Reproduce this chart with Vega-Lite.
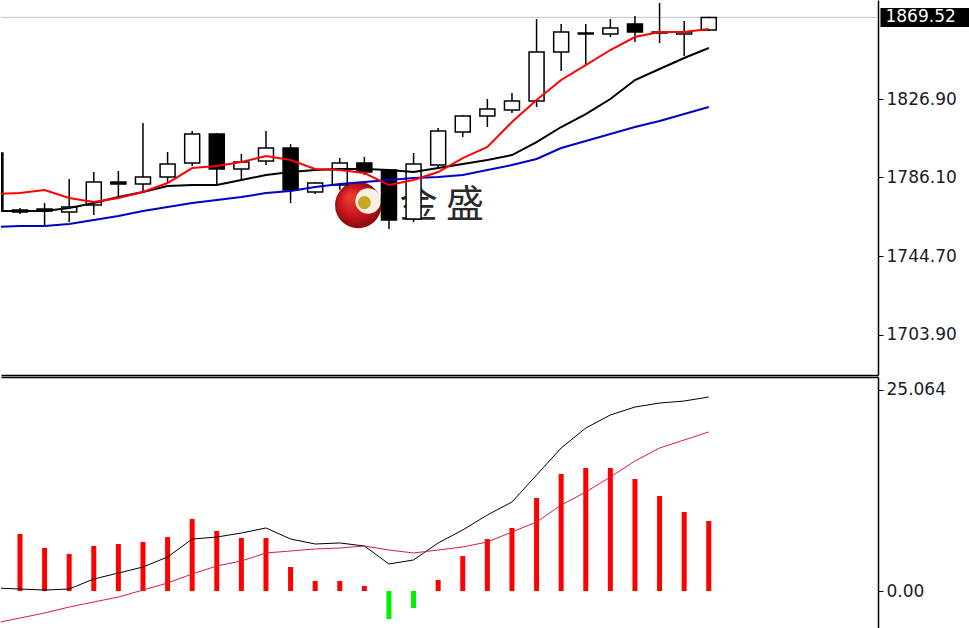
{
  "$schema": "https://vega.github.io/schema/vega-lite/v6.json",
  "padding": 0,
  "background": "white",
  "spacing": 2,
  "config": {
    "view": {"stroke": null},
    "scale": {"continuousPadding": 0},
    "axis": {"grid": false, "title": null, "labelFont": "DejaVu Sans", "labelFontSize": 17, "labelColor": "#1a1a2a", "domainColor": "#000000", "tickColor": "#000000", "tickSize": 5, "labelPadding": 3}
  },
  "datasets": {
    "bars": [
      {"k": -1, "open": 1798.70, "high": 1799.50, "low": 1767.89, "close": 1768.94, "ma5": 1777.29, "ma10": 1768.41, "ma20": 1760.06, "hist": 8.7, "dif": 0.37, "dea": -3.99},
      {"k": 0, "open": 1768.94, "high": 1769.98, "low": 1766.85, "close": 1767.89, "ma5": 1777.81, "ma10": 1768.41, "ma20": 1760.58, "hist": 7.11, "dif": 0.25, "dea": -3.37},
      {"k": 1, "open": 1769.46, "high": 1772.59, "low": 1760.58, "close": 1768.41, "ma5": 1779.38, "ma10": 1768.41, "ma20": 1760.58, "hist": 5.36, "dif": 0.12, "dea": -2.74},
      {"k": 2, "open": 1767.89, "high": 1785.12, "low": 1762.67, "close": 1770.50, "ma5": 1775.20, "ma10": 1769.98, "ma20": 1761.62, "hist": 4.61, "dif": 0.25, "dea": -2.00},
      {"k": 3, "open": 1771.55, "high": 1788.78, "low": 1766.32, "close": 1783.56, "ma5": 1773.11, "ma10": 1772.59, "ma20": 1763.71, "hist": 5.61, "dif": 1.50, "dea": -1.37},
      {"k": 4, "open": 1783.56, "high": 1789.30, "low": 1775.72, "close": 1782.51, "ma5": 1775.20, "ma10": 1775.72, "ma20": 1765.80, "hist": 5.86, "dif": 2.24, "dea": -0.75},
      {"k": 5, "open": 1782.51, "high": 1814.37, "low": 1778.34, "close": 1786.17, "ma5": 1778.34, "ma10": 1778.34, "ma20": 1768.41, "hist": 6.11, "dif": 2.99, "dea": 0.12},
      {"k": 6, "open": 1786.17, "high": 1799.22, "low": 1783.56, "close": 1792.96, "ma5": 1783.04, "ma10": 1781.47, "ma20": 1770.50, "hist": 6.73, "dif": 4.24, "dea": 1.00},
      {"k": 7, "open": 1793.48, "high": 1810.19, "low": 1791.91, "close": 1808.62, "ma5": 1790.87, "ma10": 1781.99, "ma20": 1772.59, "hist": 8.98, "dif": 6.48, "dea": 2.12},
      {"k": 8, "open": 1808.62, "high": 1809.15, "low": 1781.99, "close": 1790.35, "ma5": 1791.91, "ma10": 1781.99, "ma20": 1774.16, "hist": 7.48, "dif": 6.73, "dea": 3.12},
      {"k": 9, "open": 1790.35, "high": 1798.18, "low": 1784.60, "close": 1794.00, "ma5": 1794.00, "ma10": 1784.60, "ma20": 1775.72, "hist": 6.61, "dif": 7.23, "dea": 3.74},
      {"k": 10, "open": 1794.52, "high": 1810.19, "low": 1792.43, "close": 1801.31, "ma5": 1797.13, "ma10": 1787.21, "ma20": 1777.81, "hist": 6.61, "dif": 7.86, "dea": 4.74},
      {"k": 11, "open": 1801.31, "high": 1803.40, "low": 1772.59, "close": 1779.38, "ma5": 1795.05, "ma10": 1788.78, "ma20": 1778.86, "hist": 2.99, "dif": 6.48, "dea": 4.99},
      {"k": 12, "open": 1778.34, "high": 1783.56, "low": 1777.29, "close": 1783.04, "ma5": 1790.35, "ma10": 1789.82, "ma20": 1780.95, "hist": 1.25, "dif": 5.86, "dea": 5.24},
      {"k": 13, "open": 1781.99, "high": 1796.09, "low": 1779.38, "close": 1793.48, "ma5": 1789.82, "ma10": 1790.35, "ma20": 1782.51, "hist": 1.25, "dif": 5.99, "dea": 5.36},
      {"k": 14, "open": 1793.48, "high": 1796.61, "low": 1787.21, "close": 1788.78, "ma5": 1788.26, "ma10": 1790.35, "ma20": 1783.56, "hist": 0.62, "dif": 5.61, "dea": 5.61},
      {"k": 15, "open": 1789.82, "high": 1790.35, "low": 1759.01, "close": 1763.71, "ma5": 1781.99, "ma10": 1789.82, "ma20": 1784.60, "hist": -3.49, "dif": 3.37, "dea": 5.11},
      {"k": 16, "open": 1764.24, "high": 1798.70, "low": 1762.67, "close": 1792.96, "ma5": 1784.60, "ma10": 1788.78, "ma20": 1785.65, "hist": -2.12, "dif": 3.87, "dea": 4.74},
      {"k": 17, "open": 1792.43, "high": 1811.76, "low": 1790.87, "close": 1810.19, "ma5": 1788.78, "ma10": 1790.87, "ma20": 1786.17, "hist": 1.37, "dif": 5.99, "dea": 5.11},
      {"k": 18, "open": 1809.67, "high": 1818.54, "low": 1807.06, "close": 1818.02, "ma5": 1796.09, "ma10": 1792.96, "ma20": 1787.21, "hist": 4.36, "dif": 7.61, "dea": 5.49},
      {"k": 19, "open": 1818.02, "high": 1826.90, "low": 1812.28, "close": 1821.68, "ma5": 1801.83, "ma10": 1795.05, "ma20": 1789.82, "hist": 6.48, "dif": 9.48, "dea": 6.11},
      {"k": 20, "open": 1821.16, "high": 1830.03, "low": 1819.59, "close": 1825.86, "ma5": 1814.89, "ma10": 1797.66, "ma20": 1792.43, "hist": 7.86, "dif": 11.10, "dea": 7.36},
      {"k": 21, "open": 1825.86, "high": 1868.68, "low": 1822.72, "close": 1851.44, "ma5": 1826.38, "ma10": 1804.45, "ma20": 1795.57, "hist": 11.60, "dif": 14.46, "dea": 8.60},
      {"k": 22, "open": 1851.44, "high": 1866.07, "low": 1841.52, "close": 1861.89, "ma5": 1836.82, "ma10": 1812.28, "ma20": 1801.31, "hist": 14.59, "dif": 17.83, "dea": 10.72},
      {"k": 23, "open": 1861.37, "high": 1866.07, "low": 1844.65, "close": 1860.84, "ma5": 1844.65, "ma10": 1819.07, "ma20": 1804.97, "hist": 15.34, "dif": 20.32, "dea": 12.34},
      {"k": 24, "open": 1860.84, "high": 1868.68, "low": 1859.28, "close": 1863.98, "ma5": 1852.49, "ma10": 1826.90, "ma20": 1808.62, "hist": 15.34, "dif": 21.95, "dea": 14.21},
      {"k": 25, "open": 1866.07, "high": 1870.24, "low": 1856.67, "close": 1861.89, "ma5": 1859.28, "ma10": 1836.82, "ma20": 1812.28, "hist": 13.97, "dif": 22.94, "dea": 16.21},
      {"k": 26, "open": 1861.89, "high": 1877.03, "low": 1856.14, "close": 1861.37, "ma5": 1861.89, "ma10": 1842.57, "ma20": 1815.41, "hist": 11.85, "dif": 23.44, "dea": 17.83},
      {"k": 27, "open": 1860.84, "high": 1867.63, "low": 1849.35, "close": 1861.89, "ma5": 1861.89, "ma10": 1848.31, "ma20": 1819.07, "hist": 9.85, "dif": 23.69, "dea": 18.83},
      {"k": 28, "open": 1862.93, "high": 1869.80, "low": 1862.41, "close": 1869.52, "ma5": 1863.45, "ma10": 1853.53, "ma20": 1822.72, "hist": 8.73, "dif": 24.19, "dea": 19.83}
    ],
    "last": [{"price": 1869.52, "label": "1869.52"}],
    "logo": [{"k": 13.75, "price": 1771.55}],
    "logoInner": [{"k": 14.15, "price": 1773.64}],
    "logoBall": [{"k": 14.0, "price": 1772.8}],
    "brand": [{"k": 17.15, "price": 1771.0, "text": "金 盛"}]
  },
  "vconcat": [
    {
      "width": 877,
      "height": 375,
      "layer": [
        {
          "data": {"name": "logo"},
          "mark": {"type": "point", "shape": "circle", "filled": true, "size": 2150, "opacity": 1,
            "color": {"gradient": "radial", "x1": 0.3, "y1": 0.3, "r1": 0, "x2": 0.5, "y2": 0.5, "r2": 0.55,
              "stops": [{"offset": 0, "color": "#f04030"}, {"offset": 0.6, "color": "#c8141a"}, {"offset": 1, "color": "#7a0a0a"}]}},
          "encoding": {
            "x": {"field": "k", "type": "quantitative", "scale": {"domain": [-0.772, 34.88], "nice": false, "zero": false, "padding": 0},
              "axis": {"orient": "bottom", "labels": false, "ticks": false, "domain": true, "domainWidth": 1.5}},
            "y": {"field": "price", "type": "quantitative", "scale": {"domain": [1682.8, 1878.6], "nice": false, "zero": false, "padding": 0},
              "axis": {"orient": "right", "values": [1703.9, 1744.7, 1786.1, 1826.9], "format": ".2f", "domainWidth": 1.5}}
          }
        },
        {
          "data": {"name": "logoInner"},
          "mark": {"type": "point", "shape": "circle", "filled": true, "size": 650, "color": "#f6f1e4", "opacity": 1},
          "encoding": {"x": {"field": "k", "type": "quantitative"}, "y": {"field": "price", "type": "quantitative"}}
        },
        {
          "data": {"name": "logoBall"},
          "mark": {"type": "point", "shape": "circle", "filled": true, "size": 170, "color": "#c9a623", "opacity": 1},
          "encoding": {"x": {"field": "k", "type": "quantitative"}, "y": {"field": "price", "type": "quantitative"}}
        },
        {
          "data": {"name": "brand"},
          "mark": {"type": "text", "font": "Noto Sans CJK SC", "fontSize": 38, "color": "#2a2a2a", "align": "center", "baseline": "middle"},
          "encoding": {"x": {"field": "k", "type": "quantitative"}, "y": {"field": "price", "type": "quantitative"}, "text": {"field": "text"}}
        },
        {
          "data": {"name": "last"},
          "mark": {"type": "rule", "color": "#c4c4c4", "strokeWidth": 1},
          "encoding": {"y": {"field": "price", "type": "quantitative"}}
        },
        {
          "data": {"name": "bars"},
          "mark": {"type": "rule", "color": "#000000", "strokeWidth": 1.5, "clip": true},
          "encoding": {
            "x": {"field": "k", "type": "quantitative"},
            "y": {"field": "low", "type": "quantitative"},
            "y2": {"field": "high"}
          }
        },
        {
          "data": {"name": "bars"},
          "mark": {"type": "bar", "size": 15, "stroke": "#000000", "strokeWidth": 1.5, "clip": true, "orient": "vertical"},
          "encoding": {
            "x": {"field": "k", "type": "quantitative"},
            "y": {"field": "open", "type": "quantitative"},
            "y2": {"field": "close"},
            "fill": {"condition": {"test": "datum.close > datum.open", "value": "#ffffff"}, "value": "#000000"}
          }
        },
        {
          "data": {"name": "bars"},
          "mark": {"type": "line", "color": "#0000c8", "strokeWidth": 2, "clip": true, "interpolate": "linear"},
          "encoding": {"x": {"field": "k", "type": "quantitative"}, "y": {"field": "ma20", "type": "quantitative"}}
        },
        {
          "data": {"name": "bars"},
          "mark": {"type": "line", "color": "#000000", "strokeWidth": 2, "clip": true, "interpolate": "linear"},
          "encoding": {"x": {"field": "k", "type": "quantitative"}, "y": {"field": "ma10", "type": "quantitative"}}
        },
        {
          "data": {"name": "bars"},
          "mark": {"type": "line", "color": "#ff0000", "strokeWidth": 2, "clip": true, "interpolate": "linear"},
          "encoding": {"x": {"field": "k", "type": "quantitative"}, "y": {"field": "ma5", "type": "quantitative"}}
        },
        {
          "data": {"name": "last"},
          "mark": {"type": "bar", "orient": "horizontal", "size": 19, "color": "#000000"},
          "encoding": {
            "y": {"field": "price", "type": "quantitative"},
            "x": {"datum": 34.98},
            "x2": {"datum": 38.6}
          }
        },
        {
          "data": {"name": "last"},
          "mark": {"type": "text", "color": "#ffffff", "font": "DejaVu Sans", "fontSize": 17, "align": "left", "baseline": "middle", "dx": 5},
          "encoding": {
            "y": {"field": "price", "type": "quantitative"},
            "x": {"datum": 34.98},
            "text": {"field": "label"}
          }
        }
      ]
    },
    {
      "width": 877,
      "height": 251,
      "data": {"name": "bars"},
      "layer": [
        {
          "mark": {"type": "bar", "size": 5, "clip": true, "orient": "vertical"},
          "encoding": {
            "x": {"field": "k", "type": "quantitative", "scale": {"domain": [-0.772, 34.88], "nice": false, "zero": false, "padding": 0},
              "axis": {"orient": "top", "labels": false, "ticks": false, "domain": true, "domainWidth": 1.5}},
            "y": {"field": "hist", "type": "quantitative", "scale": {"domain": [-4.613, 26.685], "nice": false, "zero": false, "padding": 0},
              "axis": {"orient": "right", "values": [0, 25.064], "labelExpr": "datum.value === 0 ? '0.00' : format(datum.value, '.3f')", "domainWidth": 1.5}},
            "y2": {"datum": 0},
            "color": {"condition": {"test": "datum.hist < 0", "value": "#00ee00"}, "value": "#ff0000"}
          }
        },
        {
          "mark": {"type": "line", "color": "#000000", "strokeWidth": 1, "clip": true},
          "encoding": {"x": {"field": "k", "type": "quantitative"}, "y": {"field": "dif", "type": "quantitative"}}
        },
        {
          "mark": {"type": "line", "color": "#d81b4a", "strokeWidth": 1, "clip": true},
          "encoding": {"x": {"field": "k", "type": "quantitative"}, "y": {"field": "dea", "type": "quantitative"}}
        }
      ]
    }
  ]
}
